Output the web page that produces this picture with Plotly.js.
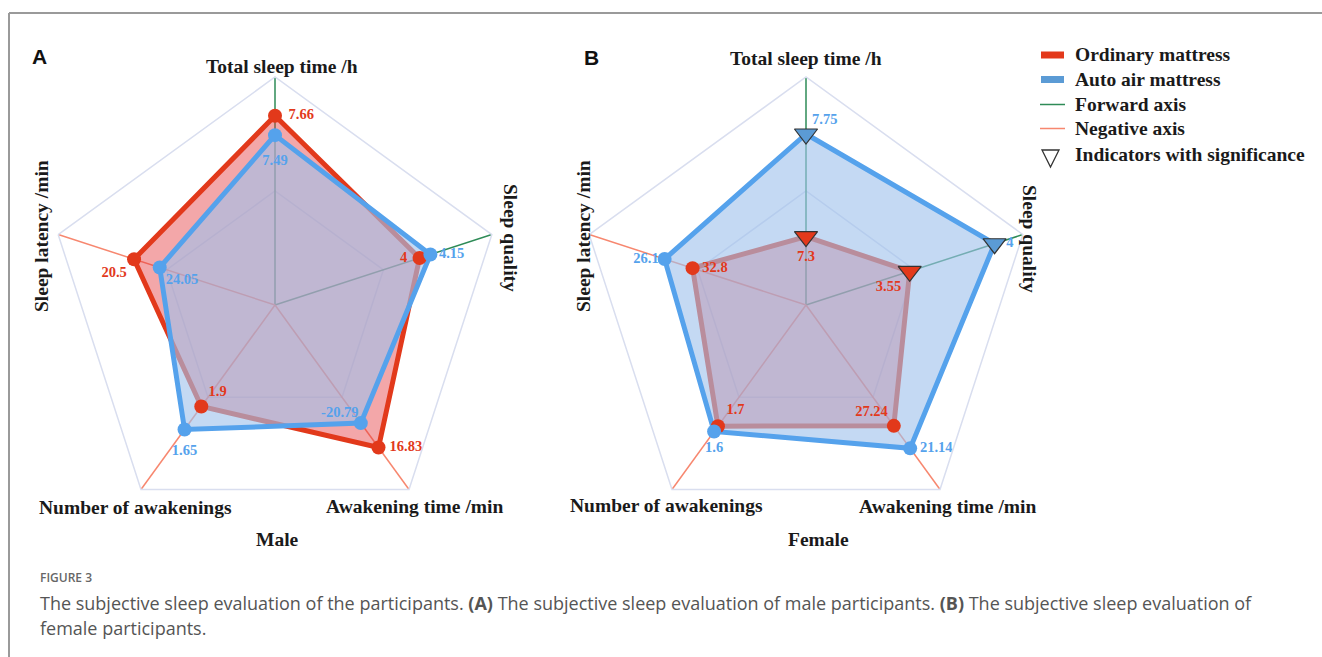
<!DOCTYPE html>
<html>
<head>
<meta charset="utf-8">
<script src="https://cdn.plot.ly/plotly-3.0.1.min.js"></script>
<style>
html,body{margin:0;padding:0;background:#ffffff;}
#chart{width:1322px;height:657px;}
</style>
</head>
<body>
<div id="chart"></div>
<script>
// ---- Data ----
const axes = ['Total sleep time /h', 'Sleep quality', 'Awakening time /min', 'Number of awakenings', 'Sleep latency /min'];
const axisDirection = ['forward', 'forward', 'negative', 'negative', 'negative'];

// Male panel (A)
const maleOrdinary = [7.66, 4, 16.83, 1.9, 20.5];
const maleAuto = [7.49, 4.15, -20.79, 1.65, 24.05];
const maleScaleLow = [6, 2, 10, 1, 10];
const maleScaleHigh = [8, 5, 40, 3, 40];

// Female panel (B)
const femaleOrdinary = [7.3, 3.55, 27.24, 1.7, 32.8];
const femaleAuto = [7.75, 4, 21.14, 1.6, 26.1];
const femaleScaleLow = [7, 3, 10, 0.5, 8];
const femaleScaleHigh = [8, 4.15, 60, 4, 60];
const femaleSignificant = [true, true, false, false, false];

const seriesNames = ['Ordinary mattress', 'Auto air mattress'];
const legendItems = ['Ordinary mattress', 'Auto air mattress', 'Forward axis', 'Negative axis', 'Indicators with significance'];

// ---- Styles ----
const RED = '#e2391b';
const BLUE = '#55a2ec';
const RED_FILL = 'rgba(228,50,55,0.43)';
const BLUE_FILL = 'rgba(160,193,236,0.62)';
const GREEN_AXIS = '#2e8b57';
const NEG_AXIS = '#f7876f';
const GRID = '#d9deef';
const SERIF = 'Liberation Serif, Times New Roman, serif';

const W = 1322, H = 657;
const px = x => x / W;
const py = y => 1 - y / H;

function normalize(values, lo, hi) {
  return values.map((v, i) => {
    const t = (Math.abs(v) - lo[i]) / (hi[i] - lo[i]);
    return axisDirection[i] === 'forward' ? t : 1 - t;
  });
}
const close = a => a.concat([a[0]]);

function spokeTraces(sub) {
  const out = [];
  [['forward', GREEN_AXIS], ['negative', NEG_AXIS]].forEach(([dir, col]) => {
    const r = [], th = [];
    axes.forEach((a, i) => {
      if (axisDirection[i] === dir) { r.push(0, 1, null); th.push(a, a, a); }
    });
    out.push({type: 'scatterpolar', subplot: sub, r: r, theta: th, mode: 'lines',
      line: {color: col, width: 1.5}, connectgaps: false, hoverinfo: 'skip', showlegend: false});
  });
  return out;
}

function areaTrace(sub, rr, name, lineCol, fillCol) {
  return {type: 'scatterpolar', subplot: sub, name: name, r: close(rr), theta: close(axes),
    mode: 'lines', fill: 'toself', fillcolor: fillCol,
    line: {color: lineCol, width: 5, shape: 'linear'}, hoverinfo: 'skip', showlegend: false};
}

function markerTrace(sub, rr, vals, name, col, sig, triCol) {
  const symbols = vals.map((v, i) => sig && sig[i] ? 'triangle-down' : 'circle');
  const sizes = vals.map((v, i) => sig && sig[i] ? 20 : 14);
  const colors = vals.map((v, i) => sig && sig[i] ? triCol : col);
  const lw = vals.map((v, i) => sig && sig[i] ? 1.2 : 0);
  return {type: 'scatterpolar', subplot: sub, name: name, r: rr, theta: axes,
    mode: 'markers',
    marker: {symbol: symbols, size: sizes, color: colors, opacity: 1, line: {color: '#333333', width: lw}},
    cliponaxis: false, hoverinfo: 'skip', showlegend: false};
}

// value labels: invisible spacer markers set the label offset from each point
function labelTrace(sub, rr, vals, name, col, textpos, gap) {
  return {type: 'scatterpolar', subplot: sub, name: name, r: rr, theta: axes,
    mode: 'markers+text', text: vals.map(v => String(v)), textposition: textpos,
    textfont: {family: SERIF, size: 14.5, color: col, weight: 'bold'},
    marker: {size: gap, color: 'rgba(0,0,0,0)', opacity: 0},
    cliponaxis: false, hoverinfo: 'skip', showlegend: false};
}

const maleOrdR = normalize(maleOrdinary, maleScaleLow, maleScaleHigh);
const maleAutoR = normalize(maleAuto, maleScaleLow, maleScaleHigh);
const femOrdR = normalize(femaleOrdinary, femaleScaleLow, femaleScaleHigh);
const femAutoR = normalize(femaleAuto, femaleScaleLow, femaleScaleHigh);

const data = [].concat(
  spokeTraces('polar'),
  [areaTrace('polar', maleOrdR, seriesNames[0], RED, RED_FILL),
   areaTrace('polar', maleAutoR, seriesNames[1], BLUE, BLUE_FILL),
   markerTrace('polar', maleOrdR, maleOrdinary, seriesNames[0], RED),
   markerTrace('polar', maleAutoR, maleAuto, seriesNames[1], BLUE),
   labelTrace('polar', maleOrdR, maleOrdinary, seriesNames[0], RED,
     ['middle right', 'middle left', 'middle right', 'top right', 'bottom left'], [20, 18, 16, 10, 10]),
   labelTrace('polar', maleAutoR, maleAuto, seriesNames[1], BLUE,
     ['bottom center', 'middle right', 'top left', 'bottom center', 'bottom right'], [28, 12, 2, 22, 8])],
  spokeTraces('polar2'),
  [areaTrace('polar2', femOrdR, seriesNames[0], RED, RED_FILL),
   areaTrace('polar2', femAutoR, seriesNames[1], BLUE, BLUE_FILL),
   markerTrace('polar2', femOrdR, femaleOrdinary, seriesNames[0], RED, femaleSignificant, '#e3391b'),
   markerTrace('polar2', femAutoR, femaleAuto, seriesNames[1], BLUE, femaleSignificant, '#5b9bd5'),
   labelTrace('polar2', femOrdR, femaleOrdinary, seriesNames[0], RED,
     ['bottom center', 'bottom left', 'top left', 'top right', 'middle right'], [20, 12, 8, 12, 14]),
   labelTrace('polar2', femAutoR, femaleAuto, seriesNames[1], BLUE,
     ['top right', 'middle right', 'middle right', 'bottom center', 'middle left'], [8, 17, 14, 14, 8])]
);

function polarLayout(cx, cy, R) {
  return {
    domain: {x: [px(cx - R), px(cx + R)], y: [py(cy + R), py(cy - R)]},
    bgcolor: 'rgba(0,0,0,0)',
    gridshape: 'linear',
    radialaxis: {range: [0, 1], tickvals: [0.5], showticklabels: false, ticks: '',
      showline: false, gridcolor: GRID, gridwidth: 1.5},
    angularaxis: {type: 'category', categoryarray: axes, rotation: 90, direction: 'clockwise',
      showgrid: false, showticklabels: false, ticks: '', showline: true, linecolor: GRID, linewidth: 1.5}
  };
}

const labelFont = {family: SERIF, size: 19.5, color: '#1a1a1a', weight: 'bold'};
function ann(text, x, y, opts) {
  return Object.assign({text: text, x: px(x), y: py(y), xref: 'paper', yref: 'paper',
    showarrow: false, xanchor: 'center', yanchor: 'middle', font: labelFont}, opts || {});
}

const annotations = [
  ann('A', 39, 56, {font: {family: 'Liberation Sans, Arial, sans-serif', size: 21, color: '#111', weight: 'bold'}}),
  ann('B', 591, 57, {font: {family: 'Liberation Sans, Arial, sans-serif', size: 21, color: '#111', weight: 'bold'}}),
  // Panel A axis labels
  ann(axes[0], 282, 66),
  ann(axes[1], 511, 238, {textangle: 90}),
  ann(axes[2], 414, 506),
  ann(axes[3], 135, 507),
  ann(axes[4], 41, 236, {textangle: -90}),
  ann('Male', 277, 539),
  // Panel B axis labels
  ann(axes[0], 806, 59),
  ann(axes[1], 1029, 239, {textangle: 90}),
  ann(axes[2], 947, 506),
  ann(axes[3], 666, 505),
  ann(axes[4], 583, 236, {textangle: -90}),
  ann('Female', 818, 539),
  // Caption
  ann('FIGURE 3', 38, 577, {xanchor: 'left', font: {family: 'Open Sans, sans-serif', size: 12, color: '#666', weight: 600}}),
  ann('The subjective sleep evaluation of the participants. <b>(A)</b> The subjective sleep evaluation of male participants. <b>(B)</b> The subjective sleep evaluation of',
      38, 603, {xanchor: 'left', font: {family: 'Open Sans, sans-serif', size: 18, color: '#555'}}),
  ann('female participants.', 38, 628, {xanchor: 'left', font: {family: 'Open Sans, sans-serif', size: 18, color: '#555'}})
];

// Legend (text)
const legendRows = [55, 79.5, 104.5, 128.5, 154];
legendItems.forEach((t, i) => annotations.push(ann(t, 1073, legendRows[i], {xanchor: 'left'})));

const shapes = [
  // frame
  {type: 'line', xref: 'paper', yref: 'paper', x0: px(9), x1: px(1322), y0: py(13), y1: py(13), line: {color: '#9a9a9a', width: 2}},
  {type: 'line', xref: 'paper', yref: 'paper', x0: px(9), x1: px(9), y0: py(13), y1: py(657), line: {color: '#9a9a9a', width: 2}},
  // legend symbols
  {type: 'line', xref: 'paper', yref: 'paper', x0: px(1041), x1: px(1064), y0: py(legendRows[0]), y1: py(legendRows[0]), line: {color: '#e3391b', width: 7}},
  {type: 'line', xref: 'paper', yref: 'paper', x0: px(1041), x1: px(1064), y0: py(legendRows[1]), y1: py(legendRows[1]), line: {color: '#5b9bd5', width: 7}},
  {type: 'line', xref: 'paper', yref: 'paper', x0: px(1040), x1: px(1065), y0: py(legendRows[2]), y1: py(legendRows[2]), line: {color: GREEN_AXIS, width: 1.5}},
  {type: 'line', xref: 'paper', yref: 'paper', x0: px(1040), x1: px(1065), y0: py(legendRows[3]), y1: py(legendRows[3]), line: {color: NEG_AXIS, width: 1.5}},
  {type: 'path', xref: 'paper', yref: 'paper',
    path: 'M ' + px(1042) + ' ' + py(150) + ' L ' + px(1059) + ' ' + py(150) + ' L ' + px(1050.5) + ' ' + py(167) + ' Z',
    line: {color: '#333', width: 1.3}, fillcolor: 'rgba(0,0,0,0)'}
];

const layout = {
  width: W, height: H,
  margin: {l: 0, r: 0, t: 0, b: 0},
  paper_bgcolor: '#ffffff',
  showlegend: false,
  polar: polarLayout(275, 305, 228),
  polar2: polarLayout(806, 305, 228),
  annotations: annotations,
  shapes: shapes
};

Plotly.newPlot('chart', data, layout, {displayModeBar: false, staticPlot: true});
</script>
</body>
</html>
